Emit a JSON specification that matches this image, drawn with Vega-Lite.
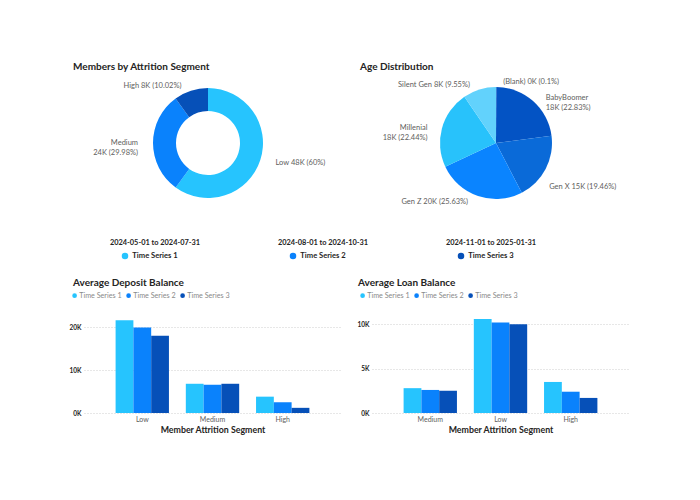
{
  "$schema": "https://vega.github.io/schema/vega-lite/v6.json",
  "background": "white",
  "padding": {"left": 69, "top": 62, "right": 5, "bottom": 5},
  "config": {
    "font": "Lato",
    "view": {"stroke": null},
    "title": {"anchor": "start", "fontSize": 10, "fontWeight": "bold", "color": "#252423", "offset": -4, "font": "Lato"},
    "axis": {"labelFont": "Lato", "titleFont": "Lato"},
    "legend": {"labelFont": "Lato"},
    "text": {"fontSize": 7.5, "color": "#605e5c", "lineBreak": "\n", "baseline": "middle"}
  },
  "resolve": {"scale": {"color": "independent"}, "legend": {"color": "independent"}},
  "spacing": 10,
  "vconcat": [
    {
      "spacing": 12,
      "resolve": {"scale": {"color": "independent"}, "legend": {"color": "independent"}},
      "vconcat": [
        {
          "spacing": 28,
          "resolve": {"scale": {"color": "independent"}, "legend": {"color": "independent"}},
          "hconcat": [
            {
              "width": 248,
              "height": 150,
              "title": {"text": "Members by Attrition Segment", "dx": -11},
              "data": {"values": [
                {"segment": "Low", "members": 48000, "label": "Low 48K (60%)"},
                {"segment": "Medium", "members": 23984, "label": "Medium\n24K (29.98%)"},
                {"segment": "High", "members": 8016, "label": "High 8K (10.02%)"}
              ]},
              "encoding": {
                "theta": {"field": "members", "type": "quantitative", "stack": true},
                "order": {"field": "members", "type": "quantitative", "sort": "descending"},
                "detail": {"field": "segment", "type": "nominal"}
              },
              "layer": [
                {
                  "mark": {"type": "arc", "innerRadius": 32, "outerRadius": 55},
                  "encoding": {
                    "color": {"field": "segment", "type": "nominal", "legend": null,
                      "scale": {"domain": ["Low", "Medium", "High"], "range": ["#26c4fe", "#0a82fc", "#0650b8"]}}
                  }
                },
                {
                  "mark": {"type": "text", "radius": 71, "align": "left", "dy": -2},
                  "encoding": {"text": {"condition": {"test": "datum.segment === 'Low'", "field": "label"}, "value": ""}}
                },
                {
                  "mark": {"type": "text", "radius": 70, "align": "right"},
                  "encoding": {"text": {"condition": {"test": "datum.segment === 'Medium'", "field": "label"}, "value": ""}}
                },
                {
                  "mark": {"type": "text", "radius": 60, "align": "right", "dx": -8},
                  "encoding": {"text": {"condition": {"test": "datum.segment === 'High'", "field": "label"}, "value": ""}}
                }
              ]
            },
            {
              "width": 248,
              "height": 150,
              "title": {"text": "Age Distribution", "dx": -12},
              "data": {"values": [
                {"gen": "(Blank)", "pct": 0.1, "label": "(Blank) 0K (0.1%)"},
                {"gen": "BabyBoomer", "pct": 22.83, "label": "BabyBoomer\n18K (22.83%)"},
                {"gen": "Gen X", "pct": 19.46, "label": "Gen X 15K (19.46%)"},
                {"gen": "Gen Z", "pct": 25.63, "label": "Gen Z 20K (25.63%)"},
                {"gen": "Millenial", "pct": 22.44, "label": "Millenial\n18K (22.44%)"},
                {"gen": "Silent Gen", "pct": 9.55, "label": "Silent Gen 8K (9.55%)"}
              ]},
              "encoding": {
                "theta": {"field": "pct", "type": "quantitative", "stack": true},
                "order": {"field": "gen", "type": "nominal", "sort": "ascending"},
                "detail": {"field": "gen", "type": "nominal"}
              },
              "layer": [
                {
                  "mark": {"type": "arc", "outerRadius": 56},
                  "encoding": {
                    "color": {"field": "gen", "type": "nominal", "legend": null,
                      "scale": {"domain": ["(Blank)", "BabyBoomer", "Gen X", "Gen Z", "Millenial", "Silent Gen"],
                                "range": ["#1aa0f0", "#0353c4", "#0a6ad8", "#0a84ff", "#28c2fb", "#62d2fc"]}}
                  }
                },
                {
                  "mark": {"type": "text", "radius": 61, "align": "left", "dx": 7},
                  "encoding": {"text": {"condition": {"test": "datum.gen === '(Blank)'", "field": "label"}, "value": ""}}
                },
                {
                  "mark": {"type": "text", "radius": 60, "align": "left", "dx": 10},
                  "encoding": {"text": {"condition": {"test": "datum.gen === 'BabyBoomer'", "field": "label"}, "value": ""}}
                },
                {
                  "mark": {"type": "text", "radius": 60, "align": "left", "dy": 16},
                  "encoding": {"text": {"condition": {"test": "datum.gen === 'Gen X'", "field": "label"}, "value": ""}}
                },
                {
                  "mark": {"type": "text", "radius": 62, "align": "right", "dx": -8},
                  "encoding": {"text": {"condition": {"test": "datum.gen === 'Gen Z'", "field": "label"}, "value": ""}}
                },
                {
                  "mark": {"type": "text", "radius": 71, "align": "right", "dy": 4},
                  "encoding": {"text": {"condition": {"test": "datum.gen === 'Millenial'", "field": "label"}, "value": ""}}
                },
                {
                  "mark": {"type": "text", "radius": 61, "align": "right", "dx": -8},
                  "encoding": {"text": {"condition": {"test": "datum.gen === 'Silent Gen'", "field": "label"}, "value": ""}}
                }
              ]
            }
          ]
        },
        {
          "width": 478,
          "height": 36,
          "data": {"values": [
            {"series": "Time Series 1", "range": "2024-05-01 to 2024-07-31"},
            {"series": "Time Series 2", "range": "2024-08-01 to 2024-10-31"},
            {"series": "Time Series 3", "range": "2024-11-01 to 2025-01-31"}
          ]},
          "encoding": {
            "x": {"field": "series", "type": "nominal", "scale": {"type": "point", "padding": 0.4226}, "axis": null}
          },
          "layer": [
            {"mark": {"type": "text", "dy": -7, "fontSize": 7.4, "fontWeight": "bold", "color": "#252423"},
             "encoding": {"text": {"field": "range"}}},
            {"mark": {"type": "text", "dy": 6, "fontSize": 7.6, "fontWeight": "bold", "color": "#252423"},
             "encoding": {"text": {"field": "series"}}},
            {"mark": {"type": "circle", "xOffset": -30, "yOffset": 6, "size": 42, "opacity": 1},
             "encoding": {"color": {"field": "series", "type": "nominal", "legend": null,
               "scale": {"domain": ["Time Series 1", "Time Series 2", "Time Series 3"], "range": ["#26c4fe", "#0a82fc", "#0650b8"]}}}}
          ]
        }
      ]
    },
    {
      "spacing": 16,
      "resolve": {"scale": {"color": "independent"}, "legend": {"color": "independent"}},
      "hconcat": [
        {
          "width": 257,
          "height": 98,
          "title": {"text": "Average Deposit Balance", "offset": 4, "dx": 4},
          "data": {"values": [
            {"segment": "Low", "series": "Time Series 1", "value": 21600},
            {"segment": "Low", "series": "Time Series 2", "value": 19900},
            {"segment": "Low", "series": "Time Series 3", "value": 18000},
            {"segment": "Medium", "series": "Time Series 1", "value": 6800},
            {"segment": "Medium", "series": "Time Series 2", "value": 6600},
            {"segment": "Medium", "series": "Time Series 3", "value": 6800},
            {"segment": "High", "series": "Time Series 1", "value": 3800},
            {"segment": "High", "series": "Time Series 2", "value": 2500},
            {"segment": "High", "series": "Time Series 3", "value": 1200}
          ]},
          "mark": {"type": "bar"},
          "encoding": {
            "x": {"field": "segment", "type": "nominal", "sort": ["Low", "Medium", "High"],
              "scale": {"paddingInner": 0.24, "paddingOuter": 0.45},
              "axis": {"title": "Member Attrition Segment", "labelAngle": 0, "labelFontSize": 7, "labelColor": "#605e5c", "domain": false, "ticks": false, "labelPadding": 2, "titleFontSize": 8.8, "titleFontWeight": "bold", "titleColor": "#252423", "titlePadding": 3}},
            "xOffset": {"field": "series", "type": "nominal", "scale": {"paddingInner": 0}},
            "y": {"field": "value", "type": "quantitative", "scale": {"domain": [0, 22800]},
              "axis": {"title": null, "values": [0, 10000, 20000], "labelExpr": "format(datum.value/1000,'d')+'K'", "labelFontSize": 6.5, "labelFontWeight": "bold", "labelColor": "#252423", "domain": false, "ticks": false, "gridDash": [1, 2], "gridColor": "#cfcfcf", "labelPadding": 3}},
            "color": {"field": "series", "type": "nominal",
              "scale": {"domain": ["Time Series 1", "Time Series 2", "Time Series 3"], "range": ["#26c4fe", "#0a82fc", "#0650b8"]},
              "legend": {"orient": "none", "legendX": -13, "legendY": -23, "direction": "horizontal", "title": null, "symbolType": "circle", "symbolSize": 22, "labelFontSize": 7.2, "labelColor": "#8a8a8a", "columnPadding": 3, "labelOffset": 1}}
          }
        },
        {
          "width": 257,
          "height": 98,
          "title": {"text": "Average Loan Balance", "offset": 4, "dx": 1},
          "data": {"values": [
            {"segment": "Medium", "series": "Time Series 1", "value": 2800},
            {"segment": "Medium", "series": "Time Series 2", "value": 2600},
            {"segment": "Medium", "series": "Time Series 3", "value": 2500},
            {"segment": "Low", "series": "Time Series 1", "value": 10600},
            {"segment": "Low", "series": "Time Series 2", "value": 10200},
            {"segment": "Low", "series": "Time Series 3", "value": 10000},
            {"segment": "High", "series": "Time Series 1", "value": 3500},
            {"segment": "High", "series": "Time Series 2", "value": 2400},
            {"segment": "High", "series": "Time Series 3", "value": 1700}
          ]},
          "mark": {"type": "bar"},
          "encoding": {
            "x": {"field": "segment", "type": "nominal", "sort": ["Medium", "Low", "High"],
              "scale": {"paddingInner": 0.24, "paddingOuter": 0.45},
              "axis": {"title": "Member Attrition Segment", "labelAngle": 0, "labelFontSize": 7, "labelColor": "#605e5c", "domain": false, "ticks": false, "labelPadding": 2, "titleFontSize": 8.8, "titleFontWeight": "bold", "titleColor": "#252423", "titlePadding": 3}},
            "xOffset": {"field": "series", "type": "nominal", "scale": {"paddingInner": 0}},
            "y": {"field": "value", "type": "quantitative", "scale": {"domain": [0, 11050]},
              "axis": {"title": null, "values": [0, 5000, 10000], "labelExpr": "format(datum.value/1000,'d')+'K'", "labelFontSize": 6.5, "labelFontWeight": "bold", "labelColor": "#252423", "domain": false, "ticks": false, "gridDash": [1, 2], "gridColor": "#cfcfcf", "labelPadding": 3}},
            "color": {"field": "series", "type": "nominal",
              "scale": {"domain": ["Time Series 1", "Time Series 2", "Time Series 3"], "range": ["#26c4fe", "#0a82fc", "#0650b8"]},
              "legend": {"orient": "none", "legendX": -13, "legendY": -23, "direction": "horizontal", "title": null, "symbolType": "circle", "symbolSize": 22, "labelFontSize": 7.2, "labelColor": "#8a8a8a", "columnPadding": 3, "labelOffset": 1}}
          }
        }
      ]
    }
  ]
}
